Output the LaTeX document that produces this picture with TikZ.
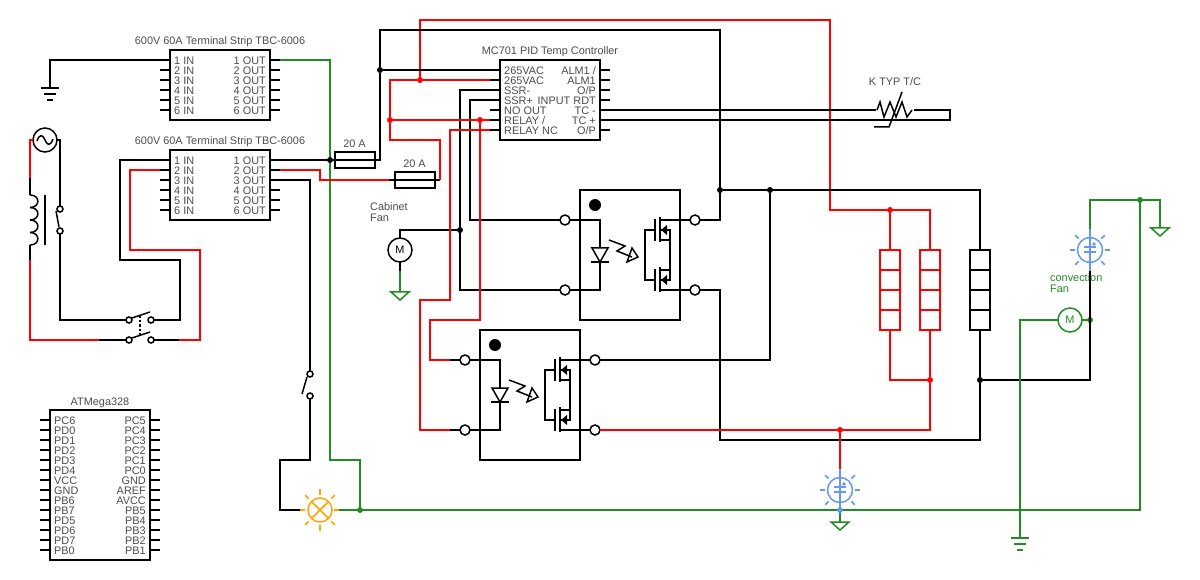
\documentclass[tikz,border=0pt]{standalone}
\usepackage{fontspec}
\setmainfont{Liberation Sans}
\usepackage{xcolor}
\usetikzlibrary{calc}
\definecolor{wirered}{HTML}{FF0000}
\definecolor{wiregreen}{HTML}{228B22}
\definecolor{lampblue}{HTML}{6699EE}
\definecolor{lamporange}{HTML}{FFA500}
\definecolor{labelgray}{HTML}{4D4D4D}
\tikzset{
    wire/.style={line width=1.5pt},
    redwire/.style={wire, wirered},
    greenwire/.style={wire, wiregreen},
    dot/.style={fill=black, inner sep=0pt, circle, minimum size=6pt, outer sep=0pt},
    term/.style={draw, fill=white, line width=1.5pt, inner sep=0pt, circle, minimum size=10pt, outer sep=0pt},
    contact/.style={draw, fill=white, line width=1.5pt, inner sep=0pt, circle, minimum size=6pt, outer sep=0pt},
    rotor/.style={draw, fill=white, line width=1.5pt, inner sep=0pt, circle, minimum size=24pt, outer sep=0pt, font=\fontsize{10.9}{11}\selectfont},
    chiptext/.style={inner sep=0pt, labelgray, font=\fontsize{10.9}{11}\selectfont},
    fuse/.style={draw, line width=1.5pt, inner sep=0pt, minimum width=40pt, minimum height=16pt, outer sep=0pt},
    pics/chip/.style n args={3}{code={
        \draw [wire] (0,0) rectangle (100,#2);
        \node [chiptext, anchor=base] (-title) at (50,-5) {#1};
        \foreach \l/\r [count=\n] in {#3} {
            \coordinate (-i\n) at (-10,{10*\n});
            \coordinate (-o\n) at (110,{10*\n});
            \draw [wire] (-i\n) -- (0,{10*\n});
            \draw [wire] (100,{10*\n}) -- (-o\n);
            \node [chiptext, anchor=base west] (-l\n) at (4,{10*\n+4.4}) {\l};
            \node [chiptext, anchor=base east] (-r\n) at (96,{10*\n+4.4}) {\r};
        }
    }},
    pics/ssr/.style={code={
        \draw [wire] (0,0) rectangle (100,130);
        \node [dot, minimum size=12pt] (-mark) at (15,15) {};
        \node [term] (-a) at (-15,30) {};
        \node [term] (-k) at (-15,100) {};
        \node [term] (-d) at (115,30) {};
        \node [term] (-s) at (115,100) {};
        \draw [wire] (-a) -- (20,30) -- (20,58);
        \draw [wire] (-k) -- (20,100) -- (20,72);
        \draw [wire] (12,58) -- (28,58) -- (20,72) -- cycle;
        \draw [wire] (11,72) -- (29,72);
        \draw [wire] (29,50) -- (45,56) -- (37,61) -- (52,67);
        \draw [wire] (52,58) -- (58,67) -- (47,72) -- cycle;
        \draw [wire] (75,29) -- (75,51);
        \draw [wire] (80,27) -- (80,52);
        \draw [wire] (75,79) -- (75,101);
        \draw [wire] (80,77) -- (80,102);
        \draw [wire] (80,30) -- (-d);
        \draw [wire] (80,100) -- (-s);
        \draw [wire] (80,50) -- (90,50);
        \draw [wire] (80,80) -- (90,80);
        \draw [wire] (80,40) -- (90,40) -- (90,90) -- (80,90);
        \draw [wire] (75,40) -- (65,40) -- (65,90) -- (75,90);
        \fill (81,40) -- (87,35) -- (87,45) -- cycle;
        \fill (81,90) -- (87,85) -- (87,95) -- cycle;
    }},
    pics/fanlamp/.style={code={
        \draw [wire] (0,0) circle (12.5);
        \foreach \a in {0,180} {\draw [wire] (\a:15) -- (\a:20);}
        \foreach \a in {45,135,225,315} {\draw [wire] (\a:16) -- (\a:21);}
        \coordinate (-t) at (0,-21);
        \coordinate (-b) at (0,21);
        \draw [wire] (-t) -- (-b);
        \draw [wire] (-6,-3) -- (6,-3);
        \draw [wire] (-6,2) -- (6,2);
        \fill (4,-6) circle (1.8);
    }},
    pics/heater/.style={code={
        \draw [wire] (0,0) rectangle (20,80);
        \foreach \y in {20,40,60} {\draw [wire] (0,\y) -- (20,\y);}
        \coordinate (-t) at (10,0);
        \coordinate (-b) at (10,80);
    }},
    pics/gndbars/.style={code={
        \coordinate (-t) at (0,0);
        \draw [wire] (-9,0) -- (9,0);
        \draw [wire] (-6,6) -- (6,6);
        \draw [wire] (-3,12) -- (3,12);
    }},
    pics/gndtri/.style={code={
        \coordinate (-t) at (0,0);
        \draw [wire] (-9,0) -- (9,0) -- (0,8) -- cycle;
    }},
}
\begin{document}
\begin{tikzpicture}[x=1pt, y=-1pt]
    \path [fill=white, use as bounding box] (0,0) rectangle (1200,580);
    % chips
    \pic (stripa) at (170,50) {chip={600V 60A Terminal Strip TBC-6006}{70}{1 IN/1 OUT, 2 IN/2 OUT, 3 IN/3 OUT, 4 IN/4 OUT, 5 IN/5 OUT, 6 IN/6 OUT}};
    \pic (stripb) at (170,150) {chip={600V 60A Terminal Strip TBC-6006}{70}{1 IN/1 OUT, 2 IN/2 OUT, 3 IN/3 OUT, 4 IN/4 OUT, 5 IN/5 OUT, 6 IN/6 OUT}};
    \pic (pid) at (500,60) {chip={MC701 PID Temp Controller}{80}{265VAC/{ALM1 /}, 265VAC/ALM1, SSR-/O\slash P, SSR+/INPUT RDT, NO OUT/TC -, RELAY \slash/TC +, RELAY NC/O\slash P}};
    \pic (mcu) at (50,410) {chip={ATMega328}{150}{PC6/PC5, PD0/PC4, PD1/PC3, PD2/PC2, PD3/PC1, PD4/PC0, VCC/GND, GND/AREF, PB6/AVCC, PB7/PB5, PD5/PB4, PD6/PB3, PD7/PB2, PB0/PB1}};
    % relays and heaters
    \pic (ssra) at (580,190) {ssr};
    \pic (ssrb) at (480,330) {ssr};
    \pic [wirered] (heata) at (880,250) {heater};
    \pic [wirered] (heatb) at (920,250) {heater};
    \pic (heatc) at (970,250) {heater};
    % fans, lamp, grounds
    \pic [lampblue] (fana) at (840,490) {fanlamp};
    \pic [lampblue] (fanb) at (1090,250) {fanlamp};
    \pic (gnda) at (50,88) {gndbars};
    \pic [wiregreen] (gndb) at (1020,538) {gndbars};
    \pic [wiregreen] (gndc) at (400,292) {gndtri};
    \pic [wiregreen] (gndd) at (840,522) {gndtri};
    \pic [wiregreen] (gnde) at (1160,228) {gndtri};
    \node [rotor] (motora) at (400,250) {M};
    \node [rotor, draw=wiregreen, text=wiregreen] (motorb) at (1070,320) {M};
    \node [rotor] (source) at (45,140) {};
    \draw [wire] (37,141) .. controls (40,133) and (43,135) .. (45,140) .. controls (47,145) and (50,147) .. (53,139);
    \node [draw, lamporange, line width=1.5pt, inner sep=0pt, circle, minimum size=24pt, outer sep=0pt] (lamp) at (320,510) {};
    \draw [wire, lamporange] (312,502) -- (328,518);
    \draw [wire, lamporange] (312,518) -- (328,502);
    \foreach \a in {90,270} {\draw [wire, lamporange] ($(lamp)+(\a:15)$) -- ($(lamp)+(\a:21)$);}
    \foreach \a in {45,135,225,315} {\draw [wire, lamporange] ($(lamp)+(\a:16)$) -- ($(lamp)+(\a:21)$);}
    \coordinate (lampl) at (300,510);
    \coordinate (lampr) at (339,510);
    \draw [wire, lamporange] (lampl) -- (305,510);
    \draw [wire, lamporange] (334,510) -- (lampr);
    % fuses
    \node [fuse] (fusea) at (355,160) {};
    \node [fuse] (fuseb) at (415,180) {};
    \node [chiptext, anchor=base] (fusealabel) at (354.5,147.5) {20 A};
    \node [chiptext, anchor=base] (fuseblabel) at (414.5,167.5) {20 A};
    % switches
    \node [contact] (swa) at (60,209) {};
    \node [contact] (swb) at (60,231) {};
    \node [contact] (swc) at (129,320) {};
    \node [contact] (swd) at (151,320) {};
    \node [contact] (swe) at (129,340) {};
    \node [contact] (swf) at (151,340) {};
    \node [contact] (swg) at (310,374) {};
    \node [contact] (swh) at (310,396) {};
    \draw [wire] (56,211) -- (59,227);
    \draw [wire] (132,318) -- (150,312);
    \draw [wire] (132,338) -- (150,332);
    \draw [wire, dash pattern=on 2.5pt off 2pt] (140,315) -- (140,335);
    \draw [wire] (307,377) -- (302,394);
    % junctions
    \node [dot] (jtop) at (380,70) {};
    \node [dot] (jfan) at (460,230) {};
    \node [dot] (jout) at (720,190) {};
    \node [dot] (jssr) at (770,190) {};
    \node [dot] (jret) at (980,380) {};
    \node [dot, wirered] (jcoil) at (420,80) {};
    \node [dot, wirered] (jrelay) at (390,120) {};
    \node [dot, wirered] (jno) at (480,120) {};
    \node [dot, wirered] (jheat) at (890,210) {};
    \node [dot, wirered] (jheatb) at (930,380) {};
    \node [dot, wirered] (jfanr) at (840,430) {};
    \node [dot, wiregreen] (jlamp) at (360,510) {};
    \node [dot, wiregreen] (jgnd) at (1140,200) {};
    \node [dot, wiregreen] (jconv) at (1090,320) {};
    \coordinate (jfanc) at (840,510);
    % texts
    \node [chiptext, anchor=base west] (fanalabel) at (370,211) {Cabinet};
    \node [chiptext, anchor=base west] (fanalabelb) at (370,222) {Fan};
    \node [chiptext, wiregreen, anchor=base west] (fanblabel) at (1050,281) {convection};
    \node [chiptext, wiregreen, anchor=base west] (fanblabelb) at (1050,292) {Fan};
    \node [chiptext, anchor=base] (tclabel) at (895,86) {K TYP T/C};
    % wires under the black ones
    \draw [greenwire] (stripa-o1) -- (330,60) -- (330,460) -- (360,460) -- (jlamp);
    \draw [redwire] (jcoil) -- (420,20) -- (830,20) -- (830,210) -- (jheat) -- (930,210) -- (heatb-t);
    \draw [redwire] (jheat) -- (heata-t);
    % black wires
    \node [dot] (jfuse) at (330,160) {};
    \draw [wire] (stripa-i1) -| (gnda-t);
    \draw [wire] (stripb-o1) -- (jfuse) -- (fusea.west) -- (fusea.east) -- (380,160) -- (jtop) -- (pid-i1);
    \draw [wire] (jtop) -- (380,30) -- (720,30) -- (720,220) -- (ssra-d);
    \draw [wire] (jout) -- (980,190) -- (heatc-t);
    \draw [wire] (jssr) -- (770,360) -- (ssrb-d);
    \draw [wire] (heatc-b) -- (jret) -- (1090,380) -- (fanb-b);
    \draw [wire] (jret) -- (980,440) -- (720,440) -- (720,290) -- (ssra-s);
    \draw [wire] (pid-i3) -- (460,90) -- (460,290) -- (ssra-k);
    \draw [wire] (pid-i4) -- (470,100) -- (470,220) -- (ssra-a);
    \draw [wire] (jfan) -- (400,230) -- (motora);
    \draw [wire] (motora) -- (400,271);
    \draw [wire] (pid-o5) -- (950,110) -- (950,120) -- (pid-o6);
    \draw [wire] (stripb-o3) -- (310,180) -- (swg);
    \draw [wire] (swh) -- (310,460) -- (280,460) -- (280,510) -- (lampl);
    \draw [wire] (source) -- (60,140) -- (swa);
    \draw [wire] (swb) -- (60,320) -- (swc);
    \draw [wire] (swd) -- (180,320) -- (180,260) -- (120,260) -- (120,160) -- (stripb-i1);
    \draw [wire] (99,340) -- (swe);
    \draw [wire] (swf) -- (179,340);
    % coil and core
    \draw [wire] (30,178) -- (30,195);
    \foreach \y in {195,207.5,220,232.5} {
        \draw [wire] (30,\y) .. controls (40.5,\y) and (40.5,\y+12.5) .. (30,\y+12.5);
    }
    \draw [wire] (30,245) -- (30,260);
    \draw [wire] (45,195) -- (45,245);
    % thermocouple
    \fill [white] (876,100) rectangle (914,119);
    \draw [wire] (877,110) -- (880,102) -- (884,117) -- (890,102) -- (896,117) -- (902,102) -- (907,117) -- (912,110);
    \draw [wire] (902,92) -- (889,127) -- (874,127);
    % red wires
    \draw [redwire] (stripb-o2) -- (320,170) -- (320,180) -- (389,180);
    \draw [wire] (389,180) -- (fuseb.west) -- (fuseb.east) -- (440,180);
    \draw [redwire] (440,180) -- (440,140) -- (390,140) -- (jrelay) -- (390,80) -- (jcoil) -- (pid-i2);
    \draw [redwire] (jrelay) -- (jno) -- (pid-i6);
    \draw [redwire] (jno) -- (480,320) -- (430,320) -- (430,360) -- (450,360);
    \draw [wire] (450,360) -- (ssrb-a);
    \draw [redwire] (pid-i7) -- (450,130) -- (450,300) -- (420,300) -- (420,430) -- (450,430);
    \draw [wire] (450,430) -- (ssrb-k);
    \draw [redwire] (ssrb-s) -- (jfanr) -- (930,430) -- (jheatb) -- (heatb-b);
    \draw [redwire] (jheatb) -- (890,380) -- (heata-b);
    \draw [redwire] (jfanr) -- (fana-t);
    \draw [redwire] (source.west) -- (30,140) -- (30,178);
    \draw [redwire] (30,260) -- (30,340) -- (99,340);
    \draw [redwire] (179,340) -- (200,340) -- (200,250) -- (130,250) -- (130,170) -- (stripb-i2);
    % green wires
    \draw [greenwire] (lampr) -- (jlamp) -- (jfanc) -- (1140,510) -- (jgnd);
    \draw [greenwire] (jfanc) -- (gndd-t);
    \draw [greenwire] (fanb-t) -- (1090,200) -- (jgnd) -- (1160,200) -- (gnde-t);
    \draw [greenwire] (motorb) -- (jconv);
    \draw [greenwire] (motorb) -- (1020,320) -- (gndb-t);
    \draw [greenwire] (400,271) -- (gndc-t);
    \node [dot, lampblue] (jfang) at (jfanc) {};
\end{tikzpicture}
\end{document}
